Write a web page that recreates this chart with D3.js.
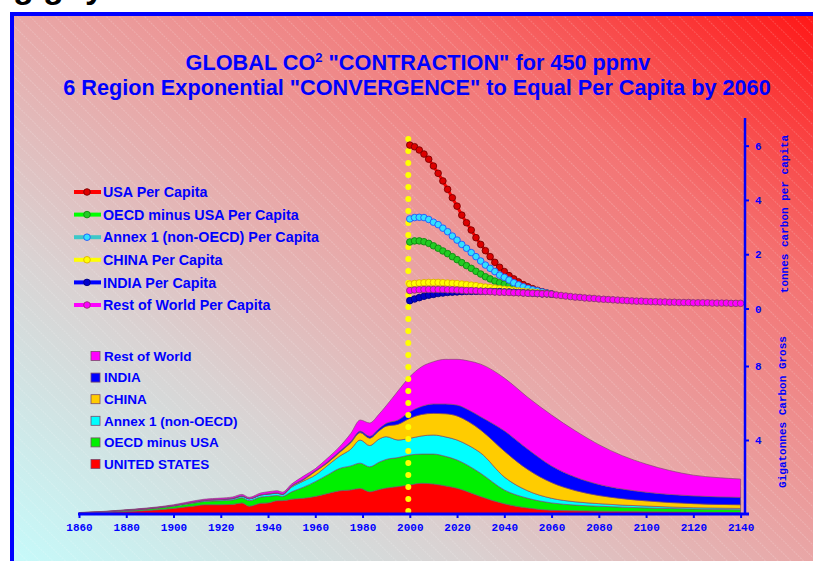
<!DOCTYPE html>
<html>
<head>
<meta charset="utf-8">
<script src="https://cdnjs.cloudflare.com/ajax/libs/d3/7.8.5/d3.min.js"></script>
<style>
body { margin:0; background:#fff; }
svg { display:block; }
</style>
</head>
<body>
<div id="chart-area"></div>
<script>
/*
*  Global CO2 contraction & convergence chart
*/

// ---- Per capita data (tonnes carbon) ----
// points every 2 years; five regions converge by 2060, Rest of World runs to 2140
var pcYears = d3.range(2000, 2061, 2);
var rowYears = d3.range(2000, 2141, 2);

var usaPC = [6.02, 5.96, 5.84, 5.69, 5.50, 5.25, 4.98, 4.70, 4.39, 4.08, 3.77, 3.44, 3.16, 2.89, 2.61, 2.36,
             2.13, 1.91, 1.70, 1.52, 1.36, 1.21, 1.09, 0.98, 0.88, 0.80, 0.73, 0.67, 0.62, 0.57, 0.53];
var oecdPC = [2.45, 2.49, 2.49, 2.46, 2.40, 2.31, 2.22, 2.12, 2.02, 1.91, 1.80, 1.69, 1.58, 1.48, 1.37, 1.27,
              1.17, 1.09, 1.01, 0.95, 0.90, 0.85, 0.81, 0.76, 0.72, 0.68, 0.65, 0.62, 0.59, 0.56, 0.53];
var annexPC = [3.30, 3.35, 3.36, 3.35, 3.28, 3.18, 3.09, 2.96, 2.83, 2.67, 2.52, 2.36, 2.22, 2.06, 1.91, 1.75,
               1.60, 1.48, 1.36, 1.23, 1.15, 1.05, 0.95, 0.87, 0.80, 0.74, 0.69, 0.65, 0.61, 0.57, 0.53];
var chinaPC = [0.90, 0.92, 0.94, 0.95, 0.96, 0.96, 0.96, 0.95, 0.94, 0.93, 0.92, 0.90, 0.88, 0.86, 0.84, 0.81,
               0.79, 0.77, 0.75, 0.73, 0.71, 0.69, 0.67, 0.65, 0.63, 0.61, 0.60, 0.58, 0.56, 0.55, 0.53];
var indiaPC = [0.29, 0.35, 0.40, 0.45, 0.49, 0.52, 0.55, 0.57, 0.59, 0.60, 0.61, 0.62, 0.63, 0.63, 0.63, 0.63,
               0.63, 0.63, 0.62, 0.62, 0.61, 0.61, 0.60, 0.59, 0.58, 0.57, 0.56, 0.55, 0.54, 0.54, 0.53];
var rowPC = [0.66, 0.68, 0.69, 0.70, 0.70, 0.70, 0.70, 0.70, 0.69, 0.69, 0.68, 0.67, 0.66, 0.66, 0.65, 0.64,
             0.63, 0.62, 0.61, 0.60, 0.60, 0.59, 0.58, 0.58, 0.57, 0.56, 0.56, 0.55, 0.54, 0.54, 0.53,
             0.50, 0.48, 0.46, 0.44, 0.42, 0.41, 0.39, 0.38, 0.37, 0.35,
             0.34, 0.33, 0.32, 0.31, 0.30, 0.29, 0.28, 0.27, 0.27, 0.26,
             0.25, 0.25, 0.24, 0.24, 0.23, 0.23, 0.22, 0.22, 0.22, 0.21,
             0.21, 0.21, 0.21, 0.20, 0.20, 0.20, 0.20, 0.19, 0.19, 0.19];

// ---- Gross emissions (GtC): top edge of each stacked band ----
var gtYears = [1860, 1870, 1880, 1890, 1900, 1905, 1910, 1913, 1920, 1925, 1929, 1932, 1937, 1940, 1944, 1946,
               1950, 1955, 1960, 1965, 1970, 1975, 1979, 1983, 1987, 1990, 1995, 2000, 2005, 2010, 2015, 2020,
               2025, 2030, 2040, 2050, 2060, 2070, 2080, 2090, 2100, 2110, 2120, 2130, 2140];
var usTop = [.03, .07, .13, .20, .30, .38, .45, .50, .50, .52, .60, .42, .58, .60, .72, .72,
             .80, .85, .95, 1.10, 1.25, 1.30, 1.38, 1.20, 1.32, 1.40, 1.48, 1.57, 1.66, 1.62, 1.52, 1.39,
             1.18, .94, .55, .32, .20, .17, .15, .13, .12, .11, .10, .09, .08];
var oecdTop = [.05, .10, .19, .28, .42, .52, .62, .68, .72, .76, .88, .72, .92, .95, 1.00, .95,
               1.20, 1.45, 1.75, 2.10, 2.45, 2.60, 2.75, 2.55, 2.80, 2.95, 3.05, 3.19, 3.24, 3.24, 3.12, 2.92,
               2.60, 2.20, 1.30, .85, .60, .48, .42, .37, .33, .30, .27, .25, .23];
var annexTop = [.06, .11, .20, .30, .45, .56, .67, .73, .78, .83, .96, .82, 1.03, 1.07, 1.12, 1.05,
                1.45, 1.78, 2.10, 2.60, 3.10, 3.50, 4.00, 3.70, 4.05, 4.18, 4.00, 4.09, 4.22, 4.27, 4.17, 4.00,
                3.70, 3.30, 2.00, 1.25, .85, .66, .56, .48, .43, .38, .34, .32, .30];
var chinaTop = [.06, .11, .20, .30, .45, .56, .67, .73, .78, .83, .96, .82, 1.03, 1.08, 1.13, 1.06,
                1.50, 1.85, 2.30, 2.75, 3.30, 3.85, 4.40, 4.10, 4.50, 4.75, 4.85, 5.17, 5.38, 5.44, 5.42, 5.30,
                4.98, 4.54, 3.40, 2.40, 1.70, 1.27, 1.00, .83, .71, .62, .56, .52, .50];
var indiaTop = [.07, .12, .21, .31, .46, .57, .68, .75, .80, .85, .98, .84, 1.05, 1.10, 1.15, 1.08,
                1.53, 1.89, 2.34, 2.80, 3.36, 3.92, 4.48, 4.20, 4.62, 4.90, 5.08, 5.53, 5.82, 5.95, 5.95, 5.89,
                5.62, 5.26, 4.50, 3.50, 2.60, 2.00, 1.60, 1.35, 1.18, 1.06, .98, .93, .90];
var rowTop = [.08, .14, .23, .34, .50, .62, .74, .80, .86, .92, 1.06, .90, 1.14, 1.20, 1.26, 1.18,
              1.62, 2.05, 2.45, 3.00, 3.60, 4.35, 5.08, 4.92, 5.40, 5.85, 6.65, 7.42, 7.96, 8.23, 8.36, 8.36,
              8.27, 8.10, 7.35, 6.30, 5.35, 4.50, 3.75, 3.15, 2.70, 2.35, 2.10, 1.97, 1.89];

var xTicks = d3.range(1860, 2141, 20);
var pcTicks = [0, 2, 4, 6];
var gtTicks = [4, 8];

// ---- Sizes ----
var W = 813, H = 561;
var blue = "#0000ff";

var svg = d3.select("#chart-area").append("svg")
    .attr("width", W)
    .attr("height", H);

var defs = svg.append("defs");

var grad = defs.append("linearGradient")
    .attr("id", "bg")
    .attr("x1", 0).attr("y1", 1)
    .attr("x2", 1).attr("y2", 0);
[[0, "#c4fdfd"], [0.3, "#dad2d2"], [0.5, "#e8a8a8"], [0.75, "#f47272"], [1, "#ff1212"]].forEach(function(s) {
    grad.append("stop").attr("offset", s[0]).attr("stop-color", s[1]);
});

var hatch = defs.append("pattern")
    .attr("id", "hatch")
    .attr("patternUnits", "userSpaceOnUse")
    .attr("width", 9).attr("height", 9)
    .attr("patternTransform", "rotate(-45)");
hatch.append("line")
    .attr("x1", 0).attr("y1", 0).attr("x2", 0).attr("y2", 9)
    .attr("stroke", "#fff")
    .attr("stroke-opacity", 0.35)
    .attr("stroke-width", 1)
    .attr("stroke-dasharray", "2 1");

// heading that runs off the top of the page
svg.selectAll(".cut")
    .data([["g", 13], ["g", 43], ["y", 85]])
    .enter().append("text")
    .attr("x", function(d) { return d[1]; })
    .attr("y", -2)
    .attr("font-family", "Liberation Sans, Arial, sans-serif")
    .attr("font-weight", "bold")
    .attr("font-size", 34)
    .text(function(d) { return d[0]; });

// frame
svg.append("rect")
    .attr("x", 12).attr("y", 14)
    .attr("width", 820).attr("height", 570)
    .attr("fill", "url(#bg)");
svg.append("rect")
    .attr("x", 12).attr("y", 14)
    .attr("width", 820).attr("height", 570)
    .attr("fill", "url(#hatch)");
svg.append("rect")
    .attr("x", 12).attr("y", 14)
    .attr("width", 820).attr("height", 570)
    .attr("fill", "none")
    .attr("stroke", blue)
    .attr("stroke-width", 4);

// title
var title = svg.append("g")
    .attr("font-family", "Liberation Sans, Arial, sans-serif")
    .attr("font-weight", "bold")
    .attr("font-size", 21.7)
    .attr("fill", blue)
    .attr("text-anchor", "middle");
var t1 = title.append("text").attr("x", 418).attr("y", 70);
t1.append("tspan").text("GLOBAL CO");
t1.append("tspan").attr("font-size", 13).attr("dy", -8).text("2");
t1.append("tspan").attr("dy", 8).text(" \"CONTRACTION\" for 450 ppmv");
title.append("text").attr("x", 417).attr("y", 95)
    .text("6 Region Exponential \"CONVERGENCE\" to Equal Per Capita by 2060");

// ---- Scales ----
var x = d3.scaleLinear().domain([1860, 2140]).range([79, 740.6]);
var yPC = d3.scaleLinear().domain([0, 7]).range([308.5, 118.5]);
var yGt = d3.scaleLinear().domain([0, 8]).range([514, 366]);

// ---- Stacked areas ----
var bands = [
    { name: "UNITED STATES", color: "#ff0000", lo: null, hi: usTop },
    { name: "OECD minus USA", color: "#00f000", lo: usTop, hi: oecdTop },
    { name: "Annex 1 (non-OECD)", color: "#00ffff", lo: oecdTop, hi: annexTop },
    { name: "CHINA", color: "#ffcc00", lo: annexTop, hi: chinaTop },
    { name: "INDIA", color: "#0000ff", lo: chinaTop, hi: indiaTop },
    { name: "Rest of World", color: "#ff00ff", lo: indiaTop, hi: rowTop }
];

var area = d3.area()
    .curve(d3.curveMonotoneX)
    .x(function(d) { return x(d.year); })
    .y0(function(d) { return yGt(d.lo); })
    .y1(function(d) { return yGt(d.hi); });

var g = svg.append("g");
bands.forEach(function(b) {
    var rows = gtYears.map(function(yr, i) {
        return { year: yr, lo: b.lo ? b.lo[i] : 0, hi: b.hi[i] };
    });
    g.append("path")
        .datum(rows)
        .attr("d", area)
        .attr("fill", b.color)
        .attr("stroke", "#7a4a6a")
        .attr("stroke-width", 0.8)
        .attr("stroke-opacity", 0.8);
});

// year 2000 marker
svg.append("line")
    .attr("x1", x(2000) - 1.5).attr("x2", x(2000) - 1.5)
    .attr("y1", 139).attr("y2", 515)
    .attr("stroke", "#ffff00")
    .attr("stroke-width", 6)
    .attr("stroke-linecap", "round")
    .attr("stroke-dasharray", "0 12");

// ---- Per capita lines ----
var pcSeries = [
    { name: "USA Per Capita", years: pcYears, values: usaPC, line: "#ff0000", dot: "#dd0000", edge: "#7a0000" },
    { name: "OECD minus USA Per Capita", years: pcYears, values: oecdPC, line: "#00ff00", dot: "#22cc22", edge: "#118811" },
    { name: "Annex 1 (non-OECD) Per Capita", years: pcYears, values: annexPC, line: "#3cc8c8", dot: "#33e0ff", edge: "#2255ff" },
    { name: "CHINA Per Capita", years: pcYears, values: chinaPC, line: "#ffff00", dot: "#ffff00", edge: "#e0b000" },
    { name: "INDIA Per Capita", years: pcYears, values: indiaPC, line: "#0000ff", dot: "#0000cc", edge: "#000080" },
    { name: "Rest of World Per Capita", years: rowYears, values: rowPC, line: "#ff00ff", dot: "#ff00ff", edge: "#8a3a6a" }
];

var line = d3.line()
    .x(function(d) { return x(d[0]); })
    .y(function(d) { return yPC(d[1]); });

pcSeries.forEach(function(s) {
    var pts = s.years.map(function(yr, i) { return [yr, s.values[i]]; });
    var sg = svg.append("g");
    sg.append("path")
        .datum(pts)
        .attr("d", line)
        .attr("fill", "none")
        .attr("stroke", s.line)
        .attr("stroke-width", 3);
    sg.selectAll("circle")
        .data(pts)
        .enter().append("circle")
        .attr("cx", function(d) { return x(d[0]); })
        .attr("cy", function(d) { return yPC(d[1]); })
        .attr("r", 3.3)
        .attr("fill", s.dot)
        .attr("stroke", s.edge)
        .attr("stroke-width", 0.9);
});

// ---- Axes ----
var monoFont = "Liberation Mono, Courier New, monospace";

var xAxis = svg.append("g")
    .attr("transform", "translate(0,514)")
    .call(d3.axisBottom(x).tickValues(xTicks).tickSize(4).tickPadding(5).tickFormat(d3.format("d")));
xAxis.select(".domain").remove();

var pcAxis = svg.append("g")
    .attr("transform", "translate(745,0)")
    .call(d3.axisRight(yPC).tickValues(pcTicks).tickSize(4).tickPadding(6).tickFormat(d3.format("d")));
pcAxis.select(".domain").remove();

var gtAxis = svg.append("g")
    .attr("transform", "translate(745,0)")
    .call(d3.axisRight(yGt).tickValues(gtTicks).tickSize(4).tickPadding(6).tickFormat(d3.format("d")));
gtAxis.select(".domain").remove();

[xAxis, pcAxis, gtAxis].forEach(function(a) {
    a.selectAll("line").attr("stroke", blue).attr("stroke-width", 2);
    a.selectAll("text")
        .attr("fill", blue)
        .attr("font-family", monoFont)
        .attr("font-weight", "bold")
        .attr("font-size", 11);
});

svg.append("line")
    .attr("x1", 78).attr("x2", 749)
    .attr("y1", 514).attr("y2", 514)
    .attr("stroke", blue).attr("stroke-width", 3);
svg.append("line")
    .attr("x1", 745).attr("x2", 745)
    .attr("y1", 118).attr("y2", 515)
    .attr("stroke", blue).attr("stroke-width", 2.5);

// axis titles
svg.append("text")
    .attr("transform", "translate(788,214) rotate(-90)")
    .attr("text-anchor", "middle")
    .attr("font-family", monoFont)
    .attr("font-weight", "bold")
    .attr("font-size", 11)
    .attr("fill", blue)
    .text("tonnes carbon per capita");
svg.append("text")
    .attr("transform", "translate(786,412) rotate(-90)")
    .attr("text-anchor", "middle")
    .attr("font-family", monoFont)
    .attr("font-weight", "bold")
    .attr("font-size", 11)
    .attr("fill", blue)
    .text("Gigatonnes Carbon Gross");

// ---- Legends ----
var legendTop = svg.append("g")
    .attr("font-family", "Liberation Sans, Arial, sans-serif")
    .attr("font-weight", "bold")
    .attr("font-size", 14.3)
    .attr("fill", blue);
var ltY = d3.scalePoint().domain(pcSeries.map(function(s) { return s.name; })).range([192, 305]);
pcSeries.forEach(function(s) {
    var row = legendTop.append("g").attr("transform", "translate(0," + ltY(s.name) + ")");
    row.append("line")
        .attr("x1", 74).attr("x2", 101)
        .attr("stroke", s.line).attr("stroke-width", 4);
    row.append("circle")
        .attr("cx", 87).attr("r", 3.3)
        .attr("fill", s.dot).attr("stroke", s.edge).attr("stroke-width", 0.9);
    row.append("text")
        .attr("x", 103).attr("dy", "0.36em")
        .text(s.name);
});

var legendBot = svg.append("g")
    .attr("font-family", "Liberation Sans, Arial, sans-serif")
    .attr("font-weight", "bold")
    .attr("font-size", 13.5)
    .attr("fill", blue);
var lbNames = bands.map(function(b) { return b.name; }).reverse();
var lbY = d3.scalePoint().domain(lbNames).range([356, 464]);
bands.slice().reverse().forEach(function(b) {
    var row = legendBot.append("g").attr("transform", "translate(0," + lbY(b.name) + ")");
    row.append("rect")
        .attr("x", 91).attr("y", -4.5)
        .attr("width", 9).attr("height", 9)
        .attr("fill", b.color)
        .attr("stroke", "#7a4a6a").attr("stroke-width", 0.8);
    row.append("text")
        .attr("x", 104).attr("dy", "0.36em")
        .text(b.name);
});
</script>
</body>
</html>
